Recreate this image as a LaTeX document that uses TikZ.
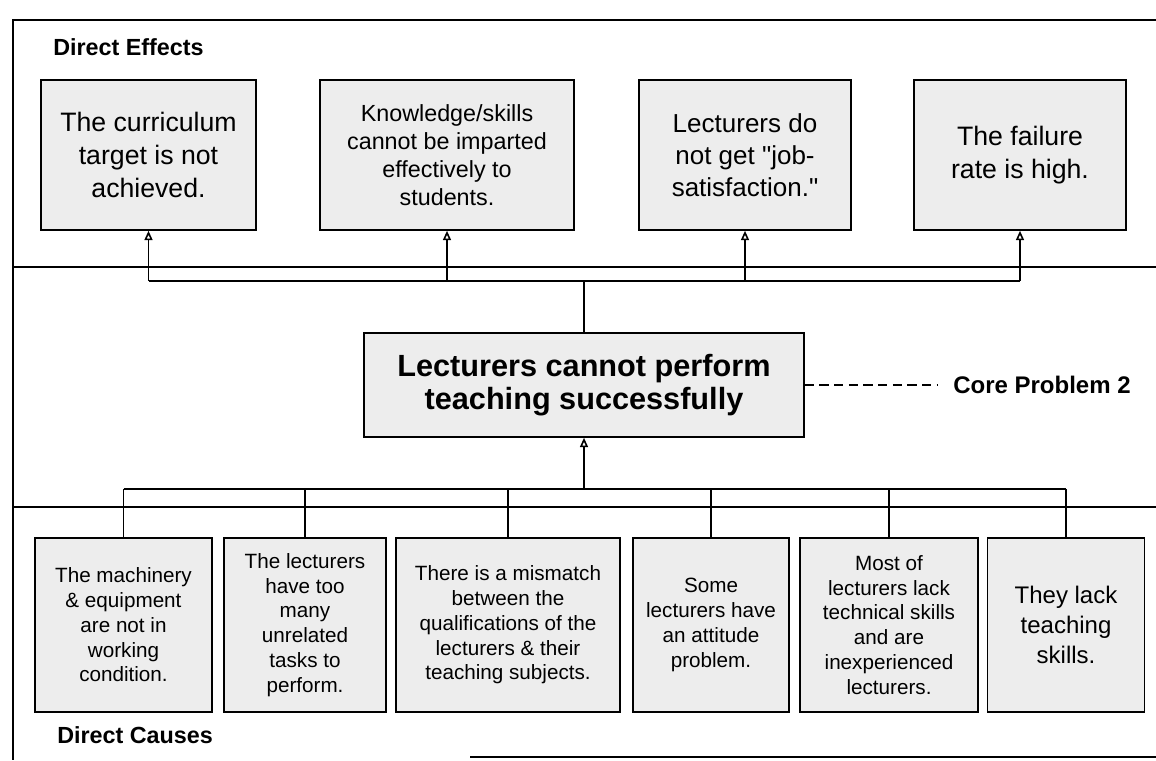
\documentclass[tikz,border=0pt]{standalone}
\usepackage{fontspec}
\setmainfont{Liberation Sans}
\usepackage{tikz}
\usetikzlibrary{arrows.meta}
\definecolor{stipple}{gray}{0.93}
\tikzset{
	effbox/.style={draw, line width=1.2pt, fill=stipple, minimum height=112.5pt, align=center, inner sep=2pt, font={\fontsize{20}{24.5}\selectfont}},
	causebox/.style={draw, line width=1.2pt, fill=stipple, minimum height=130.5pt, align=center, inner sep=2pt, font={\fontsize{15.5}{18.6}\selectfont}},
	corebox/.style={draw, line width=1.2pt, fill=stipple, minimum width=330pt, minimum height=78pt, align=center, font={\bfseries\fontsize{23}{25}\selectfont}},
	seclabel/.style={anchor=west, inner sep=0pt, font={\bfseries\fontsize{17.5}{21}\selectfont}},
	frameline/.style={line width=1.3pt},
	linkline/.style={line width=1.2pt},
	uparr/.style={linkline, -{Triangle[open, length=7pt, width=6pt]}},
}

\begin{document}
\begin{tikzpicture}[x=0.75pt, y=-0.75pt]
	\useasboundingbox (0,0) rectangle (1156,760);
	% frame
	\draw[frameline] (1156,20) -- (13,20) -- (13,760);
	\draw[frameline] (13,267) -- (1156,267);
	\draw[frameline] (13,507) -- (1156,507);
	\draw[frameline] (470,757) -- (1156,757);
	\node[seclabel] (efflbl) at (53,47) {Direct Effects};
	\node[seclabel] (causelbl) at (57,735) {Direct Causes};

	% direct effects
	\node[effbox, minimum width=161pt] (eff1) at (148.5,155) {The curriculum\\target is not\\achieved.};
	\node[effbox, minimum width=190.5pt, font={\fontsize{17.5}{21}\selectfont}] (eff2) at (447,155) {Knowledge/skills\\cannot be imparted\\effectively to\\students.};
	\node[effbox, minimum width=159pt, font={\fontsize{19.5}{24}\selectfont}] (eff3) at (745,155) {Lecturers do\\not get \textquotedbl job-\\satisfaction.\textquotedbl};
	\node[effbox, minimum width=159pt, font={\fontsize{20}{25}\selectfont}] (eff4) at (1020,155) {The failure\\rate is high.};

	% core problem
	\node[corebox] (core) at (584,385) {Lecturers cannot perform\\teaching successfully};
	\node[inner xsep=12pt, inner ysep=2pt, font={\bfseries\fontsize{18}{21}\selectfont}] (corelbl) at (1042,385) {Core Problem 2};
	\draw[linkline, dash pattern=on 7pt off 4pt] (core) -- (corelbl);

	% direct causes
	\node[causebox, minimum width=133pt] (cause1) at (123.5,625) {The machinery\\\& equipment\\are not in\\working\\condition.};
	\node[causebox, minimum width=121.5pt] (cause2) at (305,625) {The lecturers\\have too\\many\\unrelated\\tasks to\\perform.};
	\node[causebox, minimum width=168pt] (cause3) at (508,625) {There is a mismatch\\between the\\qualifications of the\\lecturers \& their\\teaching subjects.};
	\node[causebox, minimum width=117pt] (cause4) at (711,625) {Some\\lecturers have\\an attitude\\problem.};
	\node[causebox, minimum width=133.5pt] (cause5) at (889,625) {Most of\\lecturers lack\\technical skills\\and are\\inexperienced\\lecturers.};
	\node[causebox, minimum width=118pt, font={\fontsize{18}{22.5}\selectfont}] (cause6) at (1066,625) {They lack\\teaching\\skills.};

	% effects tree
	\coordinate (ebus) at (584,281);
	\draw[linkline] (core.north) -- (ebus);
	\draw[linkline] (eff1.south |- ebus) -- (eff4.south |- ebus);
	\foreach \n in {eff1,eff2,eff3,eff4}
		\draw[uparr] (\n.south |- ebus) -- (\n.south);

	% causes tree
	\coordinate (cbus) at (584,489);
	\draw[uparr] (cbus) -- (core.south);
	\draw[linkline] (cause1.north |- cbus) -- (cause6.north |- cbus);
	\foreach \n in {cause1,cause2,cause3,cause4,cause5,cause6}
		\draw[linkline] (\n.north |- cbus) -- (\n.north);
\end{tikzpicture}
\end{document}
